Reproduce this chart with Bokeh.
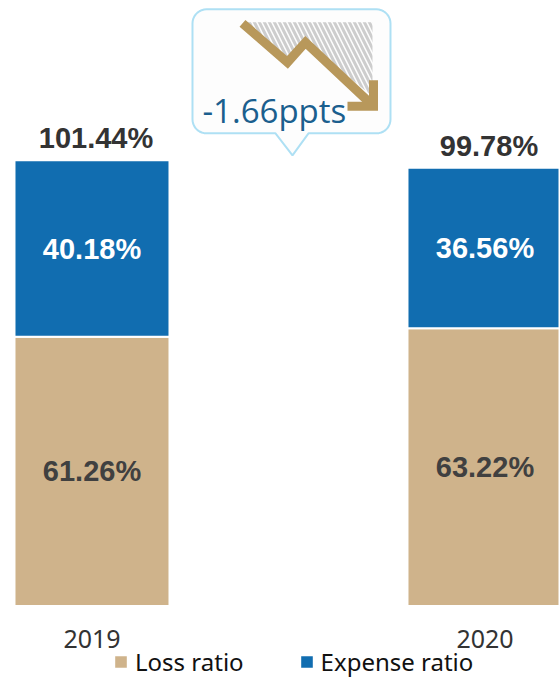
import numpy as np
from bokeh.plotting import figure
from bokeh.models import ColumnDataSource, Range1d, Legend, LegendItem
from bokeh.core.properties import value
from bokeh.embed import file_html
from bokeh.resources import INLINE

# ---- data ----
years = ["2019", "2020"]
loss_ratio = [61.26, 63.22]
expense_ratio = [40.18, 36.56]
series_names = ["Loss ratio", "Expense ratio"]

TAN = "#CFB38B"
BLUE = "#116DB0"

W, H = 559, 681
X0, X1 = -0.2328, 1.1896
Y0, Y1 = -17.19, 137.83
kx = W / (X1 - X0)
ky = H / (Y1 - Y0)

xs = list(range(len(years)))
totals = [round(a + b, 2) for a, b in zip(loss_ratio, expense_ratio)]
src = ColumnDataSource(dict(
    x=xs, year=years, loss=loss_ratio, expense=expense_ratio, total=totals,
    loss_mid=[v / 2 for v in loss_ratio],
    exp_mid=[l + e / 2 for l, e in zip(loss_ratio, expense_ratio)],
    loss_lbl=[f"{v:.2f}%" for v in loss_ratio],
    exp_lbl=[f"{v:.2f}%" for v in expense_ratio],
    total_lbl=[f"{v:.2f}%" for v in totals],
))

p = figure(width=W, height=H, x_range=Range1d(X0, X1), y_range=Range1d(Y0, Y1),
           x_axis_type=None, y_axis_type=None, output_backend="svg",
           toolbar_location=None, min_border=0, outline_line_color=None,
           background_fill_color="white", border_fill_color="white")
p.grid.visible = False

rs = p.vbar_stack(["loss", "expense"], x="x", width=155 / kx, source=src,
                  fill_color=[TAN, BLUE], line_color="white", line_width=2)

# ---- callout (decoration anchored between bars, above the highest total) ----
ax = float(np.mean(xs))
ay = max(totals)

def to_data(pts):
    return [ax + dx / kx for dx, dy in pts], [ay - dy / ky for dx, dy in pts]

def callout_path(l, r, t, b, rad, ptr):
    pts = []
    def arc(cx, cy, a0, a1):
        for a in np.linspace(a0, a1, 10):
            pts.append((cx + rad * np.cos(a), cy + rad * np.sin(a)))
    arc(l + rad, t + rad, np.pi, 1.5 * np.pi)
    arc(r - rad, t + rad, 1.5 * np.pi, 2 * np.pi)
    arc(r - rad, b - rad, 0, 0.5 * np.pi)
    pts.extend(ptr)
    arc(l + rad, b - rad, 0.5 * np.pi, np.pi)
    return pts

cx_, cy_ = to_data(callout_path(-96, 102, -151, -27, 14, [(20, -27), (4, -5), (-13, -27)]))
p.patch(cx_, cy_, fill_color="#FDFDFD", line_color="#AEE0F4", line_width=2)

hx, hy = to_data([(-44, -138), (84, -138), (84, -64), (17, -118), (-1, -98)])
p.patch(hx, hy, fill_alpha=0, line_alpha=0, hatch_pattern="left_diagonal_line",
        hatch_color="#CDCDCD", hatch_weight=3, hatch_scale=10)

zx, zy = to_data([(-46, -137), (-1, -98), (17, -118), (83, -56)])
p.line(zx, zy, line_color="#B8985B", line_width=9, line_join="miter")
ahx, ahy = to_data([(59, -54), (85, -54), (85, -80)])
p.line(ahx, ahy, line_color="#B8985B", line_width=9, line_join="miter")

delta = totals[1] - totals[0]
dx_, dy_ = to_data([(-86, -50)])
p.text(x=dx_, y=dy_, text=[f"{delta:.2f}ppts"], text_align="left", text_baseline="alphabetic",
       text_font=value("Open Sans"), text_font_size="33px", text_color="#1B5F8E")

# ---- labels ----
p.text(x="x", y="loss_mid", text="loss_lbl", source=src, text_align="center",
       text_baseline="middle", text_font=value("Liberation Sans"), text_font_style="bold",
       text_font_size="29px", text_color="#404040")
p.text(x="x", y="exp_mid", text="exp_lbl", source=src, text_align="center",
       text_baseline="middle", text_font=value("Liberation Sans"), text_font_style="bold",
       text_font_size="29px", text_color="white")
p.text(x="x", y="total", text="total_lbl", source=src, text_align="center",
       text_baseline="middle", y_offset=-22, x_offset=4, text_font=value("Liberation Sans"),
       text_font_style="bold", text_font_size="29px", text_color="#333333")
p.text(x="x", y=0, text="year", source=src, text_align="center",
       text_baseline="alphabetic", y_offset=33, text_font=value("Noto Sans"),
       text_font_size="25px", text_color="#333333")

legend = Legend(items=[LegendItem(label=series_names[0], renderers=[rs[0]]),
                       LegendItem(label=series_names[1], renderers=[rs[1]])],
                orientation="horizontal", location=(112, 3), padding=0, margin=0,
                spacing=54, glyph_width=17, glyph_height=17, label_standoff=6,
                label_text_font="Noto Sans", label_text_font_size="24px",
                label_text_color="#111111", background_fill_alpha=0,
                border_line_alpha=0)
p.add_layout(legend)

open("out.html", "w").write(file_html(p, INLINE))
